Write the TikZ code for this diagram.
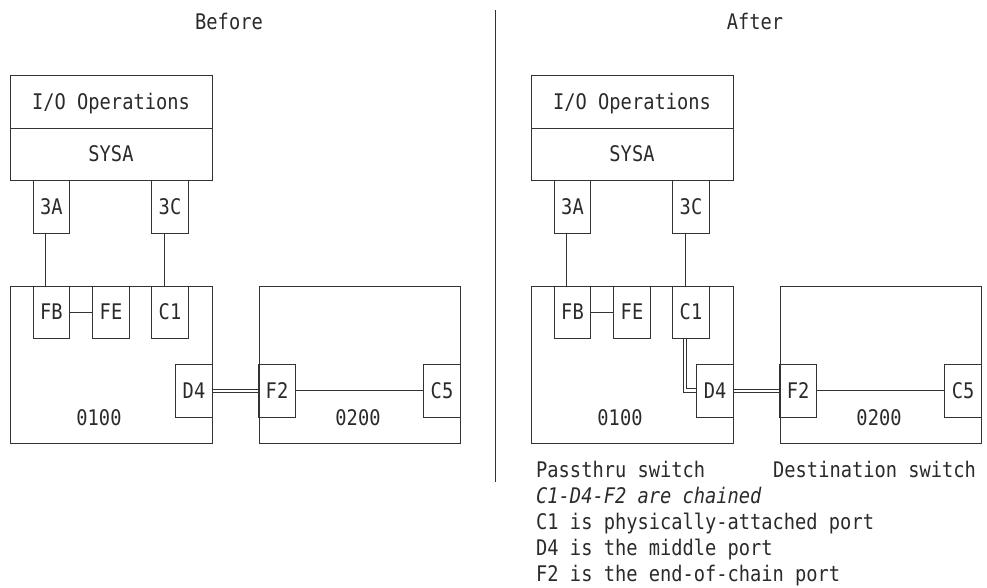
\documentclass[tikz,border=0pt]{standalone}
\usepackage{fontspec}
\newfontfamily\monofnt[FakeStretch=0.87]{DejaVu Sans Mono}
\definecolor{ink}{HTML}{2A2A2A}
\definecolor{linec}{HTML}{333333}
\newcommand\drawpanel[2]{%
\begin{scope}[shift={(#2,0)}]
  \node[bx, minimum width=202pt, minimum height=53pt] (#1io) at (111,101.5) {I/O Operations};
  \node[bx, minimum width=202pt, minimum height=52pt] (#1sys) at (111,154) {SYSA};
  \node[port] (#1p3a) at (51.5,206.5) {3A};
  \node[port] (#1p3c) at (170,206.5) {3C};
  \node[bx, minimum width=202pt, minimum height=157pt] (#1swa) at (111,364.5) {};
  \node[lbl] (#1swalbl) at (99,418) {0100};
  \node[port, minimum height=52pt] (#1fb) at (51.5,312) {FB};
  \node[port, minimum height=52pt] (#1fe) at (111,312) {FE};
  \node[port, minimum height=52pt] (#1c1) at (170,312) {C1};
  \node[port] (#1d4) at (194,390.5) {D4};
  \node[bx, minimum width=201pt, minimum height=157pt] (#1swb) at (359.5,364.5) {};
  \node[lbl] (#1swblbl) at (358,418) {0200};
  \node[port] (#1f2) at (277,390.5) {F2};
  \node[port] (#1c5) at (442,390.5) {C5};
  \draw[ln] ([xshift=-6pt]#1p3a.south) -- ([xshift=-6pt]#1fb.north);
  \draw[ln] ([xshift=-6pt]#1p3c.south) -- ([xshift=-6pt]#1c1.north);
  \draw[ln] (#1fb.east) -- (#1fe.west);
  \draw[ln] ([yshift=1.6pt]#1d4.east) -- ([yshift=1.6pt]#1f2.west);
  \draw[ln] ([yshift=-1.6pt]#1d4.east) -- ([yshift=-1.6pt]#1f2.west);
  \draw[ln] (#1f2.east) -- (#1c5.west);
\end{scope}}
\begin{document}
\begin{tikzpicture}[x=1pt,y=-1pt,
  every node/.style={font=\monofnt\fontsize{21.5}{26}\selectfont, text=ink},
  bx/.style={draw=linec, line width=0.8pt, inner sep=0pt, rectangle, text height=15.5pt, text depth=0pt},
  port/.style={bx, minimum width=36.5pt, minimum height=53pt},
  lbl/.style={inner sep=0pt, text height=15.5pt, text depth=0pt},
  txt/.style={inner sep=0pt, anchor=base west},
  ln/.style={draw=linec, line width=0.8pt},
]
\useasboundingbox (0,0) rectangle (987,587);
\node[lbl] (before) at (229,22) {Before};
\node[lbl] (after) at (755,22) {After};
\coordinate (divtop) at (495,10);
\coordinate (divbot) at (495,482);
\draw[ln] (divtop) -- (divbot);
\drawpanel{L}{0}
\drawpanel{R}{521}
\draw[ln] ([xshift=-7.6pt]Rc1.south) |- ([yshift=-1.8pt]Rd4.west);
\draw[ln] ([xshift=-4.6pt]Rc1.south) |- ([yshift=1.8pt]Rd4.west);
\node[txt] (t1) at (536,477) {Passthru switch};
\node[txt] (t1b) at (773,477) {Destination switch};
\node[txt] (t2) at (536,503) {\itshape C1-D4-F2 are chained};
\node[txt] (t3) at (536,529) {C1 is physically-attached port};
\node[txt] (t4) at (536,555) {D4 is the middle port};
\node[txt] (t5) at (536,581) {F2 is the end-of-chain port};
\end{tikzpicture}
\end{document}
